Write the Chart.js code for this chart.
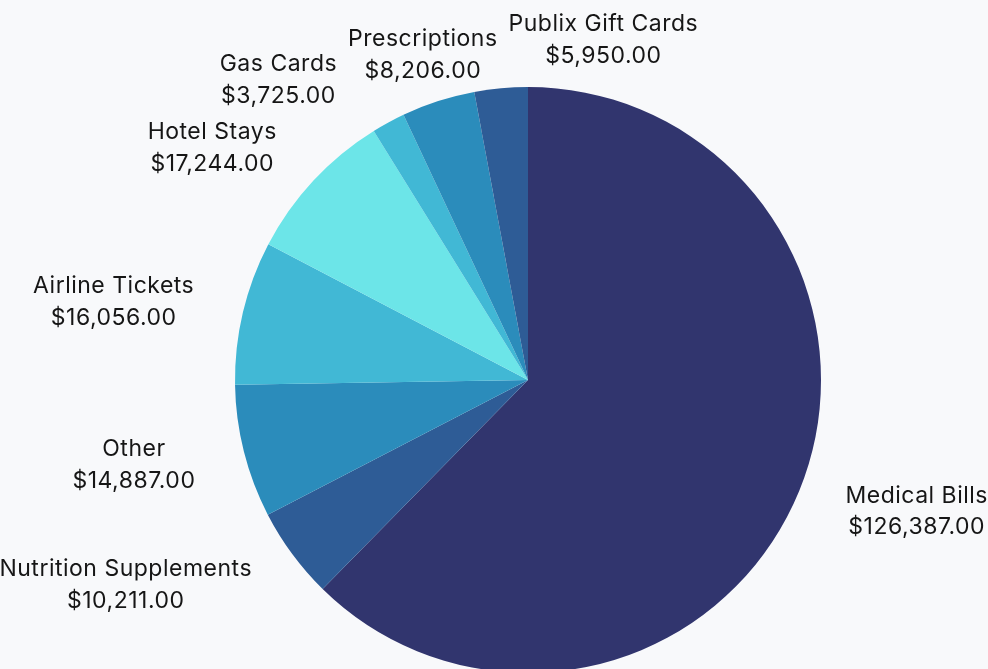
<!DOCTYPE html>
<html>
<head>
<meta charset="utf-8">
<script src="https://cdn.jsdelivr.net/npm/chart.js@4.4.1/dist/chart.umd.min.js"></script>
<style>
    html, body { margin: 0; padding: 0; background: #f8f9fb; overflow: hidden; }
    #wrap { position: relative; width: 988px; height: 676px; }
</style>
</head>
<body>
<div id="wrap"><canvas id="pie" width="988" height="676"></canvas></div>
<script>
const categorias = ["Medical Bills", "Nutrition Supplements", "Other", "Airline Tickets", "Hotel Stays", "Gas Cards", "Prescriptions", "Publix Gift Cards"];
const valores = [126387, 10211, 14887, 16056, 17244, 3725, 8206, 5950];

function formatar(v) {
    return "$" + v.toLocaleString("en-US", { minimumFractionDigits: 2, maximumFractionDigits: 2 });
}

/* rótulos fora da pizza: âncora no ângulo médio, fatias maiores têm prioridade */
const rotulosExternos = {
    id: "rotulosExternos",
    afterDraw(chart, args, opts) {
        const ctx = chart.ctx;
        const meta = chart.getDatasetMeta(0);
        const lh = opts.lineHeight;
        ctx.save();
        ctx.font = opts.font;
        ctx.letterSpacing = opts.letterSpacing;

        const itens = meta.data.map((arc, i) => {
            const p = arc.getProps(["x", "y", "startAngle", "endAngle", "outerRadius"], true);
            const a = (p.startAngle + p.endAngle) / 2;
            const ux = Math.cos(a), uy = Math.sin(a);
            const d = p.outerRadius + opts.gap;
            const ax = p.x + ux * d, ay = p.y + uy * d;
            const linhas = [chart.data.labels[i], formatar(chart.data.datasets[0].data[i])];
            const w = Math.max(...linhas.map(t => ctx.measureText(t).width));
            const h = lh * linhas.length;
            let l;
            if (Math.abs(ux) < 0.5) l = ax - w / 2;
            else if (ux > 0) l = ax;
            else l = ax - w;
            return { valor: chart.data.datasets[0].data[i], linhas, w, h, ax, l, t: ay - h / 2 };
        });

        const colide = (A, B) =>
            A.l < B.l + B.w + opts.padX && B.l < A.l + A.w + opts.padX &&
            A.t < B.t + B.h && B.t < A.t + A.h;

        const colocados = [];
        [...itens].sort((a, b) => b.valor - a.valor).forEach(it => {
            for (let k = 0; k < 10; k++) {
                const outro = colocados.find(o => colide(it, o));
                if (!outro) break;
                if (it.ax < outro.l + outro.w / 2) it.l = outro.l - opts.padX - it.w;
                else it.l = outro.l + outro.w + opts.padX;
            }
            colocados.push(it);
        });

        ctx.fillStyle = opts.color;
        ctx.textAlign = "center";
        ctx.textBaseline = "alphabetic";
        itens.forEach(it => {
            it.linhas.forEach((t, n) => {
                const cy = it.t + lh * (n + 0.5);
                ctx.fillText(t, it.l + it.w / 2, cy + opts.capHalf);
            });
        });
        ctx.restore();
    }
};

new Chart(document.getElementById("pie"), {
    type: "pie",
    data: {
        labels: categorias,
        datasets: [{
            data: valores,
            backgroundColor: ["#31356e", "#2e5c96", "#2b8cbb", "#41b8d5", "#6ce5e8", "#41b8d5", "#2b8cbb", "#2e5c96"],
            borderWidth: 0
        }]
    },
    options: {
        responsive: false,
        animation: false,
        devicePixelRatio: 1,
        layout: { padding: { left: 235, right: 167, top: 87, bottom: 3 } },
        plugins: {
            legend: { display: false },
            tooltip: { enabled: false },
            rotulosExternos: {
                font: "23px Inter",
                letterSpacing: "0.5px",
                lineHeight: 31.5,
                capHalf: 8.4,
                color: "#161616",
                gap: 50,
                padX: 11
            }
        }
    },
    plugins: [rotulosExternos]
});
</script>
</body>
</html>
